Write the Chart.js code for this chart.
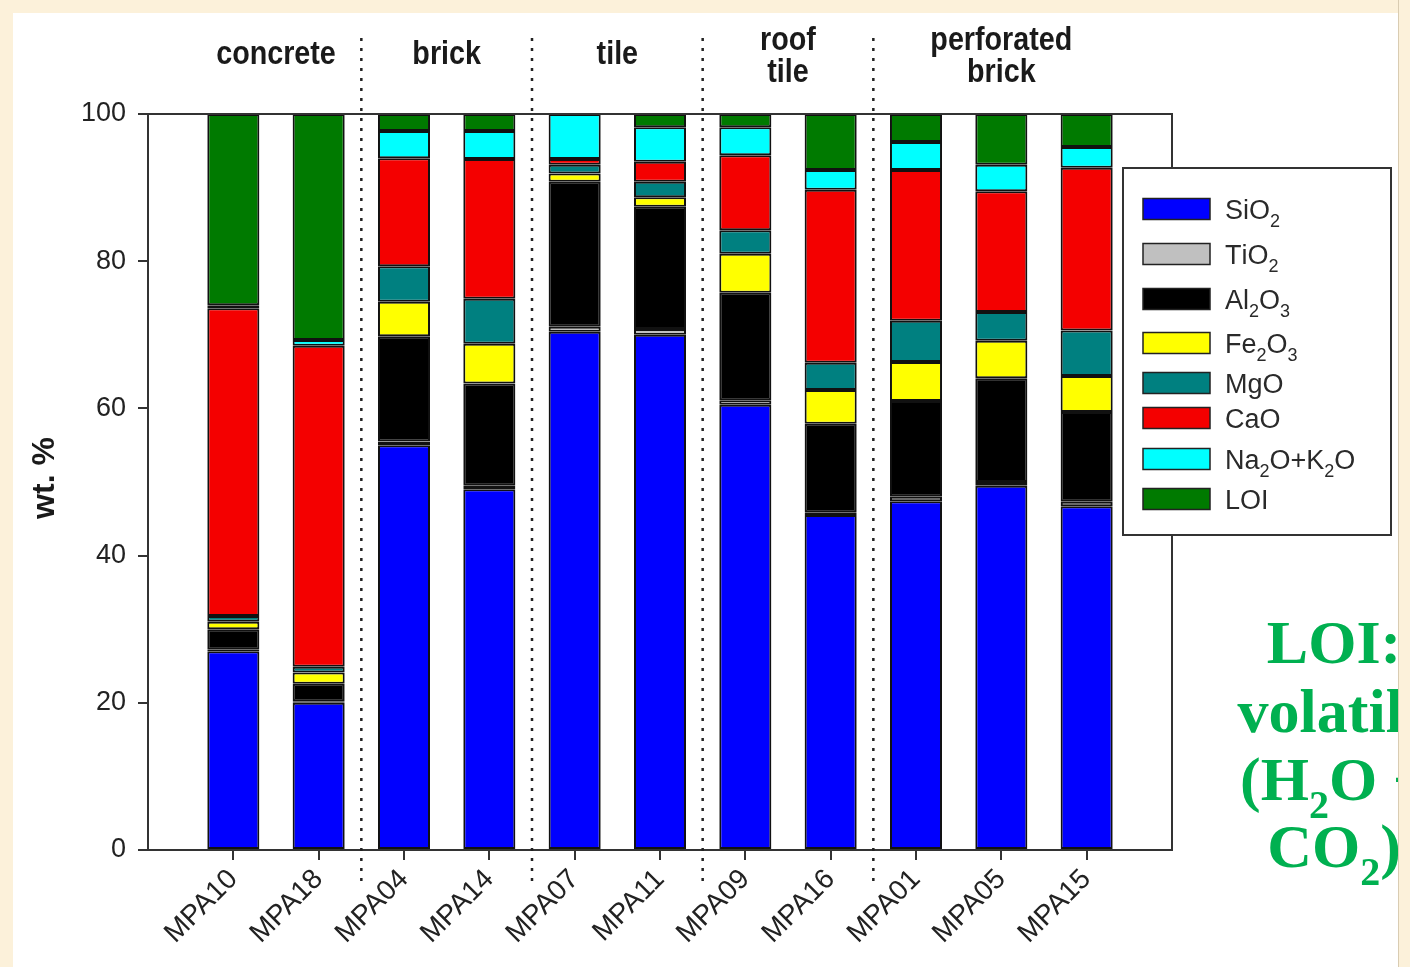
<!DOCTYPE html>
<html>
<head>
<meta charset="utf-8">
<script src="https://cdn.jsdelivr.net/npm/chart.js@4.4.0/dist/chart.umd.min.js"></script>
<style>
  html, body { margin: 0; padding: 0; background: #fcf1da; overflow: hidden; }
  #panel { position: absolute; left: 13px; top: 13px; width: 1385px; height: 954px; background: #fff; }
  #wrap { position: absolute; left: 0; top: 0; width: 1410px; height: 967px; }
  #edge { position: absolute; left: 1398px; top: 0; width: 12px; height: 967px; background: #fcf1da;
          border-left: 1px solid #d9ccb2; box-sizing: border-box; }
</style>
</head>
<body>
<div id="panel"></div>
<div id="wrap"><canvas id="chart" width="1410" height="967"></canvas></div>
<div id="edge"></div>
<script>
// samples, grouped by material
const samples = ['MPA10', 'MPA18', 'MPA04', 'MPA14', 'MPA07', 'MPA11', 'MPA09', 'MPA16', 'MPA01', 'MPA05', 'MPA15'];
const groupNames = ['concrete', 'brick', 'tile', 'roof\ntile', 'perforated\nbrick'];
const groupSizes = [2, 2, 2, 2, 3];

// oxide contents, wt. %
const sio2  = [27.0, 20.0, 55.0, 49.0, 70.4, 70.0, 60.5, 45.5, 47.4, 49.5, 46.7];
const tio2  = [ 0.2,  0.2,  0.5,  0.5,  0.7,  0.8,  0.6,  0.4,  0.6,  0.5,  0.6];
const al2o3 = [ 2.8,  2.4, 14.3, 13.9, 19.7, 16.6, 14.6, 12.0, 13.0, 14.1, 12.2];
const fe2o3 = [ 1.0,  1.5,  4.7,  5.4,  1.1,  1.3,  5.3,  4.6,  5.3,  5.1,  4.9];
const mgo   = [ 0.8,  0.8,  4.8,  6.1,  1.2,  2.1,  3.2,  3.7,  5.6,  3.9,  6.2];
const cao   = [41.8, 43.6, 14.7, 19.0,  0.8,  2.7, 10.2, 23.5, 20.5, 16.4, 22.1];
const alkal = [ 0.4,  0.8,  3.7,  3.8,  6.1,  4.7,  3.8,  2.7,  3.8,  3.6,  2.8];
const loi   = [26.0, 30.7,  2.3,  2.3,  0.0,  1.8,  1.8,  7.6,  3.8,  6.9,  4.5];

const seriesNames = ['SiO2', 'TiO2', 'Al2O3', 'Fe2O3', 'MgO', 'CaO', 'Na2O+K2O', 'LOI'];
const seriesData = [sio2, tio2, al2o3, fe2o3, mgo, cao, alkal, loi];
const seriesColors = ['#0000ff', '#c0c0c0', '#000000', '#ffff00', '#008080', '#f40000', '#00ffff', '#007a00'];

// empty slots at both ends leave a gap of one bar spacing inside the frame
const labels = [''].concat(samples, ['']);
const datasets = seriesNames.map((name, i) => ({
    label: name,
    data: [null].concat(seriesData[i], [null]),
    backgroundColor: seriesColors[i],
    borderColor: '#111',
    borderWidth: 2,
    borderSkipped: false,
    barPercentage: 0.61,
    categoryPercentage: 1
}));

// writes a formula with every digit as a subscript, returns its width
function formula(ctx, text, x, y, size, subSize, subDy, family, weight, draw) {
    let w = 0;
    for (const ch of text) {
        const sub = /[0-9]/.test(ch);
        ctx.font = weight + ' ' + (sub ? subSize : size) + 'px ' + family;
        if (draw) ctx.fillText(ch, x + w, y + (sub ? subDy : 0));
        w += ctx.measureText(ch).width;
    }
    return w;
}

const decor = {
    id: 'decor',
    afterDraw(chart) {
        const ctx = chart.ctx;
        const area = chart.chartArea;
        const xs = chart.scales.x;
        const px = i => xs.getPixelForValue(i + 1);

        ctx.save();
        // top and right sides of the frame
        ctx.strokeStyle = '#333';
        ctx.lineWidth = 2;
        ctx.beginPath();
        ctx.moveTo(area.left, area.top);
        ctx.lineTo(area.right, area.top);
        ctx.lineTo(area.right, area.bottom);
        ctx.stroke();

        // dotted separators and material names
        let start = 0;
        groupSizes.forEach((n, g) => {
            const end = start + n - 1;
            const cx = (px(start) + px(end)) / 2;
            const lines = groupNames[g].split('\n');
            const base = lines.length === 1 ? [64] : [50, 82];
            ctx.fillStyle = '#1a1a1a';
            ctx.font = 'bold 33px "Liberation Sans", Arial, sans-serif';
            ctx.textAlign = 'center';
            lines.forEach((t, k) => {
                ctx.save();
                ctx.translate(cx, base[k]);
                ctx.scale(0.87, 1);
                ctx.fillText(t, 0, 0);
                ctx.restore();
            });
            if (g < groupSizes.length - 1) {
                const sx = (px(end) + px(end + 1)) / 2;
                ctx.save();
                ctx.strokeStyle = '#222';
                ctx.lineWidth = 2.5;
                ctx.setLineDash([3, 7]);
                ctx.beginPath();
                ctx.moveTo(sx, 38);
                ctx.lineTo(sx, 882);
                ctx.stroke();
                ctx.restore();
            }
            start += n;
        });

        // y axis title
        ctx.save();
        ctx.translate(45, 478);
        ctx.rotate(-Math.PI / 2);
        ctx.font = 'bold 32px "Liberation Sans", Arial, sans-serif';
        ctx.textAlign = 'center';
        ctx.textBaseline = 'middle';
        ctx.fillStyle = '#1a1a1a';
        ctx.fillText('wt. %', 0, 0);
        ctx.restore();

        // legend
        const lx = 1123, ly = 168, lw = 268, lh = 367;
        ctx.fillStyle = '#fff';
        ctx.fillRect(lx, ly, lw, lh);
        ctx.strokeStyle = '#333';
        ctx.lineWidth = 2;
        ctx.strokeRect(lx, ly, lw, lh);
        const rowY = [209, 254, 299, 343, 383, 418, 459, 499];
        ctx.textAlign = 'left';
        ctx.textBaseline = 'alphabetic';
        chart.data.datasets.forEach((ds, i) => {
            const cy = rowY[i];
            ctx.fillStyle = ds.backgroundColor;
            ctx.fillRect(1143, cy - 10.5, 67, 21);
            ctx.strokeStyle = '#222';
            ctx.lineWidth = 1.5;
            ctx.strokeRect(1143, cy - 10.5, 67, 21);
            ctx.fillStyle = '#2a2a2a';
            formula(ctx, ds.label, 1225, cy + 9.5, 27, 18, 8, '"Liberation Sans", Arial, sans-serif', 'normal', true);
        });

        // note on the right
        ctx.fillStyle = '#00b050';
        const note = [['LOI:', 663], ['volatile', 732], ['(H2O +', 800], ['CO2)', 867]];
        note.forEach(([t, y]) => {
            const fam = '"Liberation Serif", "Times New Roman", serif';
            const w = formula(ctx, t, 0, 0, 62, 40, 18, fam, 'bold', false);
            formula(ctx, t, 1334 - w / 2, y, 62, 40, 18, fam, 'bold', true);
        });
        ctx.restore();
    }
};

Chart.defaults.font.family = '"Liberation Sans", Arial, sans-serif';

new Chart(document.getElementById('chart'), {
    type: 'bar',
    data: { labels: labels, datasets: datasets },
    options: {
        responsive: false,
        animation: false,
        devicePixelRatio: 1,
        layout: { padding: { top: 114, right: 238, bottom: 0, left: 0 } },
        plugins: { legend: { display: false }, tooltip: { enabled: false } },
        scales: {
            x: {
                stacked: true,
                offset: false,
                grid: {
                    offset: false,
                    drawOnChartArea: false,
                    tickLength: 10,
                    lineWidth: 2,
                    color: c => (c.index === 0 || c.index === labels.length - 1) ? 'rgba(0,0,0,0)' : '#333'
                },
                border: { color: '#333', width: 2 },
                ticks: {
                    autoSkip: false,
                    minRotation: 45,
                    maxRotation: 45,
                    padding: 3,
                    color: '#222',
                    font: { size: 28 }
                },
                afterFit(s) { s.height = 117; }
            },
            y: {
                stacked: true,
                min: 0,
                max: 100,
                grid: { drawOnChartArea: false, tickLength: 10, lineWidth: 2, color: '#333' },
                border: { color: '#333', width: 2 },
                ticks: { stepSize: 20, padding: 12, color: '#222', font: { size: 27 } },
                afterFit(s) { s.width = 148; }
            }
        }
    },
    plugins: [decor]
});
</script>
</body>
</html>
